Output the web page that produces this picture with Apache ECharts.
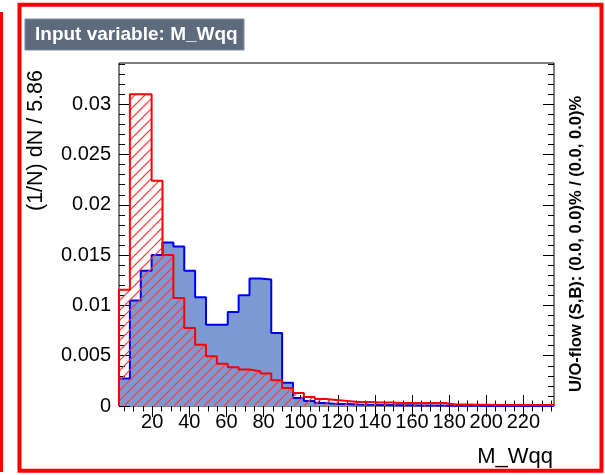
<!DOCTYPE html>
<html><head><meta charset="utf-8">
<script src="https://cdn.jsdelivr.net/npm/echarts@6/dist/echarts.min.js"></script>
<style>html,body{margin:0;padding:0;background:#fff}#c{width:605px;height:475px}</style>
</head><body><div id="c"></div>
<script>
// ---- data ----
const binStart = 2.1;
const binWidth = 5.86;
const signal = [0.00273, 0.0105, 0.01344, 0.0150, 0.01625, 0.01585, 0.01344, 0.0108, 0.00808, 0.00808,
  0.00934, 0.0110, 0.01268, 0.01258, 0.00726, 0.0023, 0.0008, 0.0005, 0.0003, 0.0002,
  0.0002, 0.00015, 0.00012, 0.0001, 0.0001, 0.00008, 0.00008, 0.00006, 0.00005, 0.00005,
  0.00003, 0.00002, 0.00002, 0.00001, 0.00001, 0, 0, 0, 0, 0];
const background = [0.01156, 0.0310, 0.0310, 0.0224, 0.0150, 0.01073, 0.00776, 0.0061, 0.00494, 0.00419,
  0.00385, 0.00362, 0.00345, 0.00322, 0.00256, 0.0018, 0.0013, 0.0009, 0.0007, 0.0006,
  0.0005, 0.0004, 0.0004, 0.00035, 0.00035, 0.0003, 0.0003, 0.0003, 0.0003, 0.0003,
  0.00015, 0.00015, 0.00012, 0.00012, 0.0001, 0.0001, 0.0001, 0.0001, 0.0001, 0.0001];
const xMajorTicks = [20, 40, 60, 80, 100, 120, 140, 160, 180, 200, 220];
const xMinorTicks = [5, 10, 15, 25, 30, 35, 45, 50, 55, 65, 70, 75, 85, 90, 95, 105, 110, 115, 125, 130, 135,
  145, 150, 155, 165, 170, 175, 185, 190, 195, 205, 210, 215, 225, 230, 235];
const yMajorTicks = [0, 0.005, 0.01, 0.015, 0.02, 0.025, 0.03];
const yMinorTicks = [0.001, 0.002, 0.003, 0.004, 0.006, 0.007, 0.008, 0.009, 0.011, 0.012, 0.013, 0.014,
  0.016, 0.017, 0.018, 0.019, 0.021, 0.022, 0.023, 0.024, 0.026, 0.027, 0.028, 0.029, 0.031, 0.032, 0.033, 0.034];
const yMax = 0.0341;
const titleText = 'Input variable: M_Wqq';
const yTitle = '(1/N) dN / 5.86';
const xTitle = 'M_Wqq';
const flowText = 'U/O-flow (S,B): (0.0, 0.0)% / (0.0, 0.0)%';

// ---- build ----
const xMax = binStart + signal.length * binWidth;
function steps(vals) {
  const d = [[binStart, 0]];
  vals.forEach((v, i) => d.push([binStart + i * binWidth, v]));
  d.push([binStart + vals.length * binWidth, vals[vals.length - 1]]);
  d.push([binStart + vals.length * binWidth, 0]);
  return d;
}
const hatchBins = background.map((v, i) => [binStart + i * binWidth, binStart + (i + 1) * binWidth, v]);
const HATCH = 10;
function renderHatch(params, api) {
  const p0 = api.coord([api.value(0), api.value(2)]);
  const p1 = api.coord([api.value(1), 0]);
  const xa = p0[0], xb = p1[0], yt = p0[1], yb = p1[1];
  const children = [];
  if (yb - yt < 0.5) return { type: 'group', children };
  const cStart = Math.ceil((xa + yt) / HATCH) * HATCH;
  for (let c = cStart; c <= xb + yb; c += HATCH) {
    const x1 = Math.max(xa, c - yb), x2 = Math.min(xb, c - yt);
    if (x2 > x1) {
      children.push({ type: 'line', shape: { x1: x1, y1: c - x1, x2: x2, y2: c - x2 },
        style: { stroke: '#ff3a3a', lineWidth: 1.2 } });
    }
  }
  return { type: 'group', children };
}

const FONT = '"Liberation Sans", Arial, Helvetica, sans-serif';
function xAx(pos, ticks, len, labels) {
  return {
    type: 'value', min: binStart, max: xMax, position: pos,
    axisLine: { show: false }, splitLine: { show: false },
    axisTick: { show: true, inside: true, length: len, customValues: ticks, lineStyle: { color: '#000', width: 1 } },
    axisLabel: labels ? { show: true, customValues: ticks, formatter: v => String(v), color: '#000', fontSize: 20, fontFamily: FONT, margin: 6 } : { show: false }
  };
}
function yAx(pos, ticks, len, labels) {
  return {
    type: 'value', min: 0, max: yMax, position: pos,
    axisLine: { show: false }, splitLine: { show: false },
    axisTick: { show: true, inside: true, length: len, customValues: ticks, lineStyle: { color: '#000', width: 1 } },
    axisLabel: labels ? { show: true, customValues: ticks, formatter: v => String(v), color: '#000', fontSize: 20, fontFamily: FONT, margin: 8 } : { show: false }
  };
}

const chart = echarts.init(document.getElementById('c'), null, { renderer: 'canvas' });
chart.setOption({
  animation: false,
  backgroundColor: '#fff',
  grid: { left: 119, top: 63, right: 51, bottom: 69, show: true, borderColor: '#000', borderWidth: 1, backgroundColor: 'transparent' },
  xAxis: [xAx('bottom', xMajorTicks, 11, true), xAx('bottom', xMinorTicks, 5.5, false),
          xAx('top', xMajorTicks, 11, false), xAx('top', xMinorTicks, 5.5, false)],
  yAxis: [yAx('left', yMajorTicks, 11, true), yAx('left', yMinorTicks, 6, false),
          yAx('right', yMajorTicks, 11, false), yAx('right', yMinorTicks, 6, false)],
  series: [
    { type: 'line', xAxisIndex: 0, yAxisIndex: 0, step: 'end', symbol: 'none', showSymbol: false,
      data: steps(signal), lineStyle: { color: '#0000ee', width: 2 },
      areaStyle: { color: '#7d99d1', opacity: 1 }, z: 2 },
    { type: 'custom', xAxisIndex: 0, yAxisIndex: 0, data: hatchBins, renderItem: renderHatch,
      encode: { x: [0, 1], y: 2 }, clip: true, silent: true, z: 3 },
    { type: 'line', xAxisIndex: 0, yAxisIndex: 0, step: 'end', symbol: 'none', showSymbol: false,
      data: steps(background), lineStyle: { color: '#ff0000', width: 2 }, z: 4 }
  ],
  graphic: [
    { type: 'line', shape: { x1: 1.5, y1: 12, x2: 1.5, y2: 472 }, style: { stroke: '#ff0000', lineWidth: 3 } },
    { type: 'rect', shape: { x: 19.5, y: 4.7, width: 582, height: 466 }, style: { fill: 'none', stroke: '#ff0000', lineWidth: 4 } },
    { type: 'rect', shape: { x: 25, y: 19, width: 219, height: 31 }, style: { fill: '#5d6b7d', stroke: '#7d8b9d', lineWidth: 1 } },
    { type: 'text', x: 35, y: 35, style: { text: titleText, fill: '#fff', font: 'bold 19px ' + FONT, verticalAlign: 'middle', align: 'left' } },
    { type: 'text', x: 36, y: 70, rotation: Math.PI / 2, style: { text: yTitle, fill: '#000', font: '21.5px ' + FONT, verticalAlign: 'middle', align: 'right' } },
    { type: 'text', x: 553, y: 457, style: { text: xTitle, fill: '#000', font: '22px ' + FONT, verticalAlign: 'middle', align: 'right' } },
    { type: 'text', x: 576, y: 244, rotation: Math.PI / 2, style: { text: flowText, fill: '#000', font: 'bold 16.5px ' + FONT, verticalAlign: 'middle', align: 'center' } }
  ]
});
</script></body></html>
